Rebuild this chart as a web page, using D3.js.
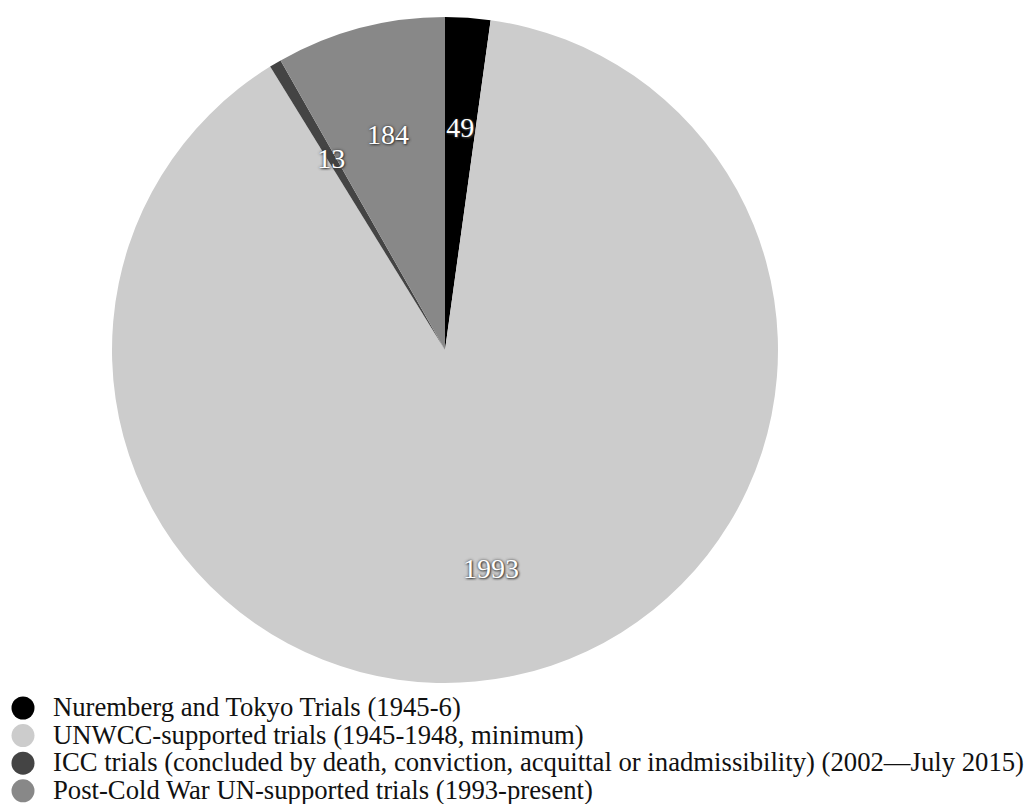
<!DOCTYPE html>
<html>
<head>
<meta charset="utf-8">
<script src="https://cdn.jsdelivr.net/npm/d3@7"></script>
<style>
  body { margin:0; background:#fff; }
  svg { display:block; font-family:"Liberation Serif","Times New Roman",serif; }
  .slice-label { fill:#fff; font-size:28px; text-anchor:middle; text-shadow:0 0 3px #333, 1px 1px 2px #444; }
  .legend text { fill:#111; font-size:26.7px; }
</style>
</head>
<body>
<div id="chart"></div>
<script>
/* data, in drawing order (clockwise from 12 o'clock) */
const LABELS = [
  "Nuremberg and Tokyo Trials (1945-6)",
  "UNWCC-supported trials (1945-1948, minimum)",
  "ICC trials (concluded by death, conviction, acquittal or inadmissibility) (2002\u2014July 2015)",
  "Post-Cold War UN-supported trials (1993-present)"
];
const VALUES = [49, 1993, 13, 184];
const COLORS = ["#000000", "#cccccc", "#444444", "#888888"];

const W = 1026, H = 804;
const cx = 445, cy = 350, R = 333;

const svg = d3.select("#chart").append("svg").attr("width", W).attr("height", H);
const g = svg.append("g").attr("transform", `translate(${cx},${cy})`);

const rows = LABELS.map((l, i) => ({ label:l, value:VALUES[i], color:COLORS[i] }));
const pie = d3.pie().value(d => d.value).sort(null);
const arc = d3.arc().innerRadius(0).outerRadius(R);
const labelArc = d3.arc().innerRadius(R * 0.67).outerRadius(R * 0.67);
const arcs = pie(rows);

g.selectAll("path.slice").data(arcs).enter().append("path").attr("class","slice")
  .attr("d", arc).attr("fill", d => d.data.color);

g.selectAll("text.slice-label").data(arcs).enter().append("text").attr("class","slice-label")
  .attr("transform", d => `translate(${labelArc.centroid(d)})`)
  .attr("dy", "0.35em")
  .text(d => d.data.value);

// legend: one row per category
const leg = svg.append("g").attr("class","legend").attr("transform","translate(23,708)");
const item = leg.selectAll("g").data(rows).enter().append("g")
  .attr("transform", (d, i) => `translate(0,${i * 27.6})`);
item.append("circle").attr("r", 11.5).attr("fill", d => d.color);
item.append("text").attr("x", 30).attr("y", 8).text(d => d.label);
</script>
</body>
</html>
